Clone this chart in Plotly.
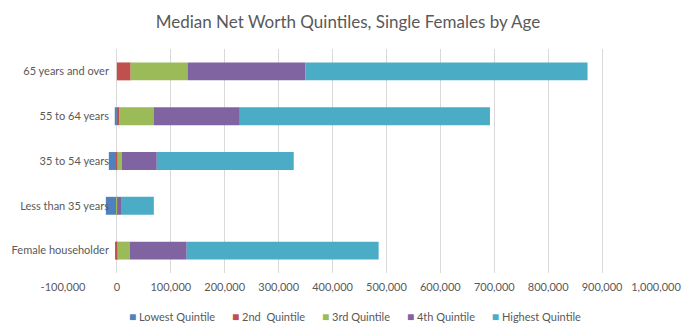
import plotly.graph_objects as go

categories = ["Female householder", "Less than 35 years", "35 to 54 years",
              "55 to 64 years", "65 years and over"]
series_names = ["Lowest Quintile", "2nd\u00a0 Quintile", "3rd Quintile", "4th Quintile", "Highest Quintile"]
lowest = [-3500, -20500, -15000, -4000, 0]
second = [500, 0, 500, 5000, 25500]
third = [23000, 500, 8500, 63000, 105500]
fourth = [106000, 8500, 65000, 160000, 219000]
highest = [356000, 59500, 254000, 464000, 523000]
series_values = [lowest, second, third, fourth, highest]
colors = ["#4F81BD", "#C0504D", "#9BBB59", "#8064A2", "#4BACC6"]

x_tickvals = [-100000, 0, 100000, 200000, 300000, 400000, 500000, 600000, 700000, 800000, 900000, 1000000]
x_ticktext = ["-100,000", "0", "100,000", "200,000", "300,000", "400,000", "500,000",
              "600,000", "700,000", "800,000", "900,000", "1,000,000"]

fig = go.Figure()
for name, vals, col in zip(series_names, series_values, colors):
    fig.add_trace(go.Bar(y=categories, x=vals, name=name, orientation="h",
                         marker=dict(color=col, line=dict(width=0)), width=0.4,
                         showlegend=False))

W, H = 696, 335
ml, mr, mt, mb = 63, 40, 49, 62
ph = H - mt - mb
xmin, xmax = -100000, 1000000
zero_pos = (0 - xmin) / (xmax - xmin)

font_family = "Lato, 'Liberation Sans', sans-serif"

# legend drawn as a single text line: coloured square glyph + series name
legend_parts = []
for name, col in zip(series_names, colors):
    legend_parts.append(f"<span style='color:{col};font-size:12px'>\u25A0</span> {name}")
legend_text = ("\u00a0" * 6).join(legend_parts)

fig.update_layout(
    width=W, height=H,
    margin=dict(l=ml, r=mr, t=mt, b=mb, pad=0, autoexpand=False),
    barmode="relative",
    plot_bgcolor="white", paper_bgcolor="white",
    font=dict(family=font_family, size=11, color="#595959"),
    title=dict(text="Median Net Worth Quintiles, Single Females by Age",
               x=0.5, xanchor="center", y=1 - 22 / H, yanchor="middle", yref="container",
               font=dict(size=17, color="#595959", family=font_family)),
    xaxis=dict(range=[xmin, xmax], tickvals=x_tickvals, ticktext=x_ticktext,
               showgrid=True, gridcolor="#D9D9D9", gridwidth=1, zeroline=False,
               showline=False, ticks="", ticklabelstandoff=6,
               tickfont=dict(size=11, color="#595959"), fixedrange=True),
    yaxis=dict(anchor="free", position=zero_pos, showgrid=False, zeroline=False,
               showline=False, ticks="", ticklabelstandoff=8,
               tickfont=dict(size=11, color="#595959"), fixedrange=True),
    showlegend=False,
    annotations=[dict(text=legend_text, x=343 / W, xref="paper", xanchor="center",
                      y=-(316 - (H - mb)) / ph, yref="paper", yanchor="middle",
                      showarrow=False, font=dict(size=11, color="#595959", family=font_family))],
)

fig.write_html("out.html")
